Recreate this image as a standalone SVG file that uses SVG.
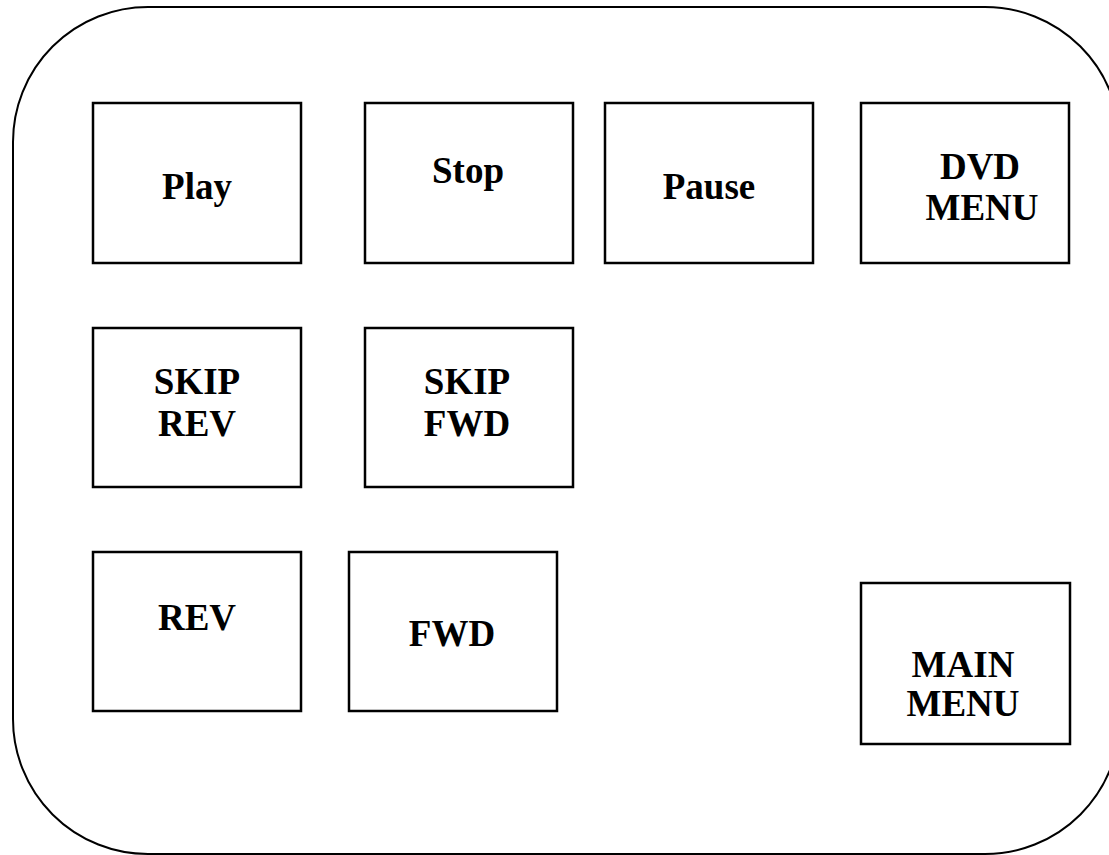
<svg xmlns="http://www.w3.org/2000/svg" width="1109" height="855" viewBox="0 0 1109 855">
<style>
.frame{fill:none;stroke:#000;stroke-width:2}
.btn{fill:#fff;stroke:#000;stroke-width:2.5}
.lbl{font-family:"Liberation Serif","Times New Roman",serif;font-weight:bold;font-size:37px;fill:#000;text-anchor:middle}
</style>
<rect class="frame" x="13" y="7" width="1107" height="847" rx="135" ry="135"/>
<g id="play"><rect class="btn" x="93" y="103" width="208" height="160"/><text class="lbl" x="197" y="199">Play</text></g>
<g id="stop"><rect class="btn" x="365" y="103" width="208" height="160"/><text class="lbl" x="468" y="183">Stop</text></g>
<g id="pause"><rect class="btn" x="605" y="103" width="208" height="160"/><text class="lbl" x="709" y="199">Pause</text></g>
<g id="dvd-menu"><rect class="btn" x="861" y="103" width="208" height="160"/><text class="lbl" x="980" y="179">DVD</text><text class="lbl" x="982" y="220">MENU</text></g>
<g id="skip-rev"><rect class="btn" x="93" y="328" width="208" height="159"/><text class="lbl" x="197" y="394">SKIP</text><text class="lbl" x="197" y="436">REV</text></g>
<g id="skip-fwd"><rect class="btn" x="365" y="328" width="208" height="159"/><text class="lbl" x="467" y="394">SKIP</text><text class="lbl" x="467" y="436">FWD</text></g>
<g id="rev"><rect class="btn" x="93" y="552" width="208" height="159"/><text class="lbl" x="197" y="630">REV</text></g>
<g id="fwd"><rect class="btn" x="349" y="552" width="208" height="159"/><text class="lbl" x="452" y="646">FWD</text></g>
<g id="main-menu"><rect class="btn" x="861" y="583" width="209" height="161"/><text class="lbl" x="963" y="677">MAIN</text><text class="lbl" x="963" y="716">MENU</text></g>
<g id="connectors"></g>
</svg>
